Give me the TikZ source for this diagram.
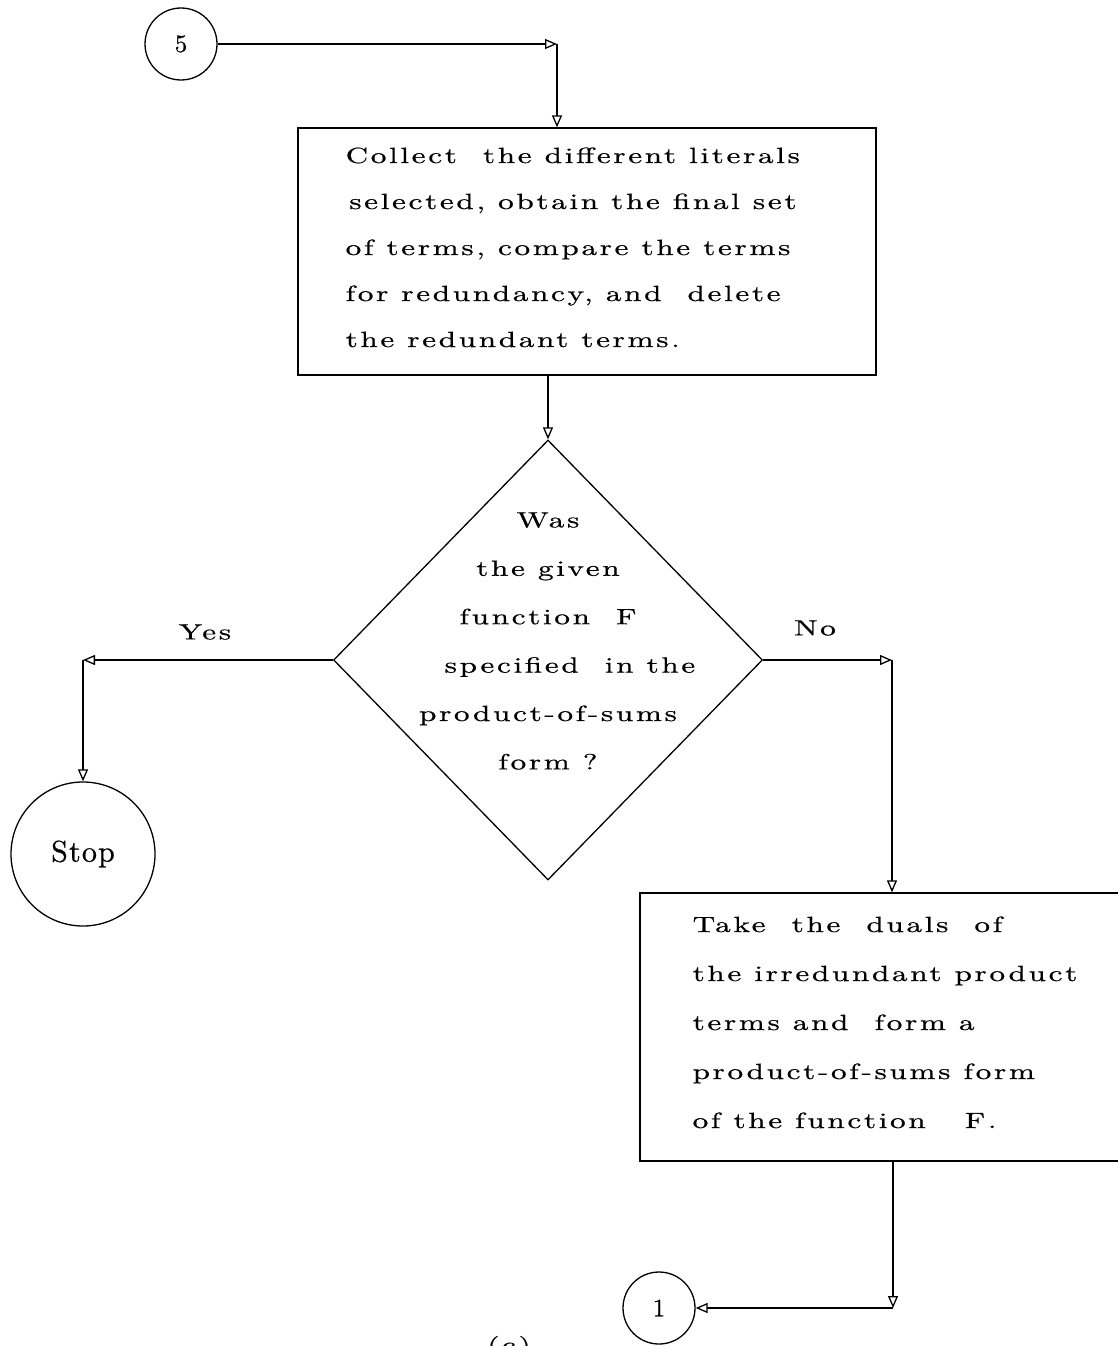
\documentclass[tikz,border=0pt]{standalone}
\usepackage{fontspec}
\usetikzlibrary{arrows.meta,shapes.geometric}
\newfontfamily\tw{lmroman10-regular}[Extension=.otf,FakeStretch=1.42,LetterSpace=12,FakeBold=0.6]
\newfontfamily\tn{lmroman10-regular}[Extension=.otf,LetterSpace=4,FakeBold=0.6]
\begin{document}
\begin{tikzpicture}[x=1pt,y=-1pt,
  line width=1.3pt,
  arr/.style={-{Triangle[open,length=12pt,width=10pt]}},
  txt/.style={font={\tw\fontsize{22}{46}\selectfont},inner sep=0pt},
  proc/.style={draw,rectangle,inner sep=0pt},
  term/.style={draw,circle,inner sep=0pt,font={\tn\fontsize{25}{27}\selectfont}}
]
\useasboundingbox (0,0) rectangle (1117,1346);
% terminals
\node[term,minimum size=72pt] (c5) at (181,44) {5};
\node[term,minimum size=144pt,font={\tn\fontsize{30}{32}\selectfont}] (stop) at (83,854) {Stop};
\node[term,minimum size=72pt] (c1) at (659,1308) {1};
% box 1
\node[proc,minimum width=578pt,minimum height=247pt] (b1) at (587,251.5) {};
\node[txt,anchor=base west,align=left] (t1) at (345,347) {Collect\ \ the different literals\\
\,selected, obtain the final set\\
of terms, compare the terms\\
for redundancy, and\ \ delete\\
the redundant terms.};
% decision
\node[draw,diamond,minimum width=429pt,minimum height=440pt,inner sep=0pt] (dia) at (548,660) {};
\node[txt,align=center,font={\tw\fontsize{22}{48.4}\selectfont}] (td) at (548,641) {Was\\the given\\function\ \ F\\
\hspace{2em}specified\ \ in the\\product-of-sums\\form ?};
% box 2
\node[proc,minimum width=485pt,minimum height=268pt] (b2) at (882.5,1027) {};
\node[txt,anchor=base west,align=left,font={\tw\fontsize{22}{49}\selectfont}] (t2) at (692,1128) {Take\ \ the\ \ duals\ \ of\\
the irredundant product\\
terms and\ \ form a\\
product-of-sums form\\
of the function\ \ \ F.};
% labels
\node[txt] (yes) at (205,632) {Yes};
\node[txt] (no) at (815,628) {No};
\node[txt] (cap) at (509,1347) {(c)};
% connectors
\coordinate (k1) at (557,44);
\coordinate (k3) at (892,660);
\coordinate (k4) at (893,1308);
\draw[arr] (c5.east) -- (k1);
\draw[arr] (k1) -- (k1 |- b1.north);
\draw[arr] (dia.north |- b1.south) -- (dia.north);
\draw[arr] (dia.west) -- (stop.north |- dia.west) coordinate (k2);
\draw[arr] (k2) -- (stop.north);
\draw[arr] (dia.east) -- (k3);
\draw[arr] (k3) -- (k3 |- b2.north);
\draw[arr] (k4 |- b2.south) -- (k4);
\draw[arr] (k4) -- (c1.east);
\end{tikzpicture}
\end{document}
